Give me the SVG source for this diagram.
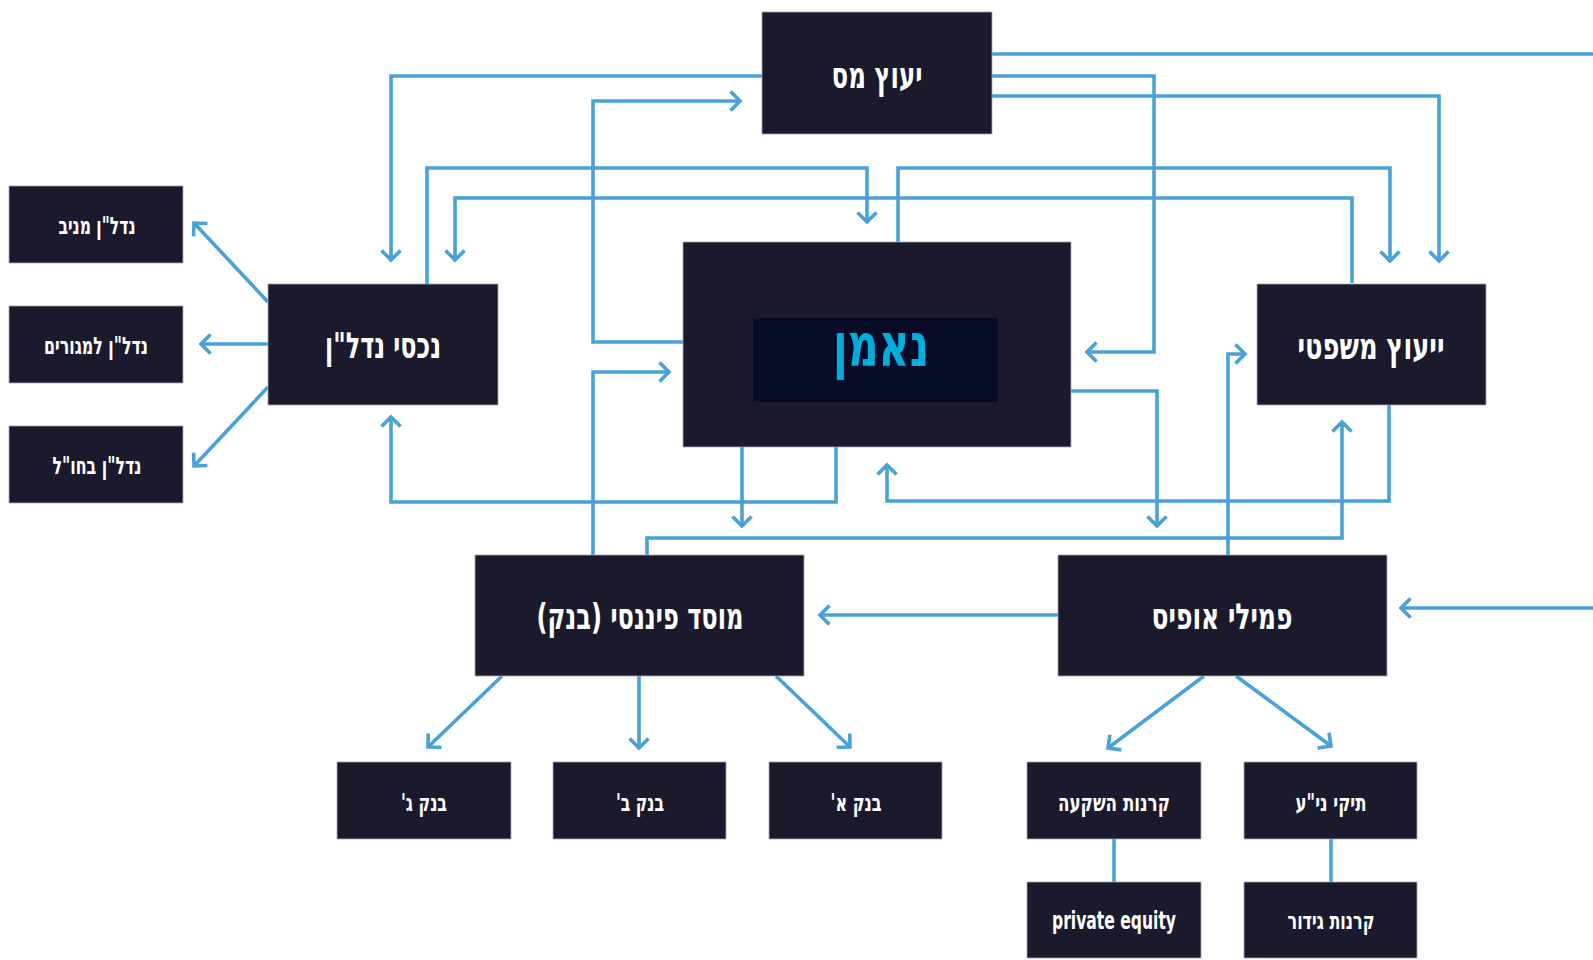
<svg xmlns="http://www.w3.org/2000/svg" width="1593" height="960" viewBox="0 0 1593 960">
<style>
.box{fill:#1b1a2d;stroke:#a8a8b2;stroke-width:0.8}
.t{fill:#ffffff;font-family:"DejaVu Sans Condensed","DejaVu Sans",sans-serif;font-stretch:condensed;font-weight:bold;text-anchor:middle}
.big{font-size:36px}
.sm{font-size:24px}
.c{fill:none;stroke:#48a2d5;stroke-width:3.6;stroke-linejoin:miter}
.a{marker-end:url(#ah)}
</style>
<defs>
<marker id="ah" viewBox="-14 -14 28 28" markerWidth="28" markerHeight="28" refX="0" refY="0" orient="auto" markerUnits="userSpaceOnUse">
<path d="M-9.5,-9.5 L0,0 L-9.5,9.5" fill="none" stroke="#48a2d5" stroke-width="3.6"/>
</marker>
</defs>
<rect width="1593" height="960" fill="#ffffff"/>
<g id="connectors">
<polyline class="c a" points="762,76 391,76 391,260"/>
<polyline class="c a" points="683,342 593,342 593,101 740,101"/>
<polyline class="c a" points="427,284 427,168 867,168 867,222"/>
<polyline class="c a" points="1352,283 1352,198 455,198 455,260"/>
<polyline class="c a" points="898,242 898,168 1390,168 1390,261"/>
<polyline class="c a" points="992,96 1439,96 1439,261"/>
<polyline class="c a" points="992,76 1154,76 1154,352 1087,352"/>
<polyline class="c" points="992,54 1593,54"/>
<polyline class="c a" points="1593,608 1401,608"/>
<polyline class="c a" points="1071,391 1157,391 1157,526"/>
<polyline class="c a" points="1228,555 1228,354 1245,354"/>
<polyline class="c a" points="647,555 647,538 1342,538 1342,422"/>
<polyline class="c a" points="1389,405 1389,501 887,501 887,465"/>
<polyline class="c a" points="836,447 836,502 391,502 391,417"/>
<polyline class="c a" points="742,447 742,526"/>
<polyline class="c a" points="593,555 593,372 669,372"/>
<polyline class="c a" points="1058,615 820,615"/>
<line class="c a" x1="268" y1="302" x2="194" y2="223"/>
<line class="c a" x1="268" y1="344" x2="201" y2="344"/>
<line class="c a" x1="268" y1="387" x2="194" y2="466"/>
<line class="c a" x1="502" y1="676" x2="428" y2="747"/>
<line class="c a" x1="639" y1="676" x2="639" y2="748"/>
<line class="c a" x1="776" y1="676" x2="850" y2="747"/>
<line class="c a" x1="1204" y1="676" x2="1108" y2="748"/>
<line class="c a" x1="1236" y1="676" x2="1331" y2="746"/>
<line class="c" x1="1114" y1="839" x2="1114" y2="882"/>
<line class="c" x1="1331" y1="839" x2="1331" y2="882"/>
</g>
<g id="tax">
<rect class="box" x="762" y="12" width="230" height="122"/>
<text class="t big" x="877" y="88" direction="rtl" textLength="91" lengthAdjust="spacingAndGlyphs">יעוץ מס</text>
</g>
<g id="central">
<rect class="box" x="683" y="242" width="388" height="205"/>
<rect x="753" y="318" width="245" height="84" fill="#080c29"/>
<text x="881" y="366" direction="rtl" textLength="96" lengthAdjust="spacingAndGlyphs" style="fill:#00aedb;font-family:'DejaVu Sans Condensed','DejaVu Sans',sans-serif;font-stretch:condensed;font-weight:bold;font-size:60px;text-anchor:middle">נאמן</text>
</g>
<g id="realestate">
<rect class="box" x="268" y="284" width="230" height="121"/>
<text class="t big" x="383" y="358" direction="rtl" textLength="116" lengthAdjust="spacingAndGlyphs">נכסי נדל"ן</text>
</g>
<g id="legal">
<rect class="box" x="1257" y="284" width="229" height="121"/>
<text class="t big" x="1371" y="359" direction="rtl" textLength="147" lengthAdjust="spacingAndGlyphs">ייעוץ משפטי</text>
</g>
<g id="re-income">
<rect class="box" x="9" y="186" width="174" height="77"/>
<text class="t sm" x="97" y="234" direction="rtl" textLength="77" lengthAdjust="spacingAndGlyphs">נדל"ן מניב</text>
</g>
<g id="re-residential">
<rect class="box" x="9" y="306" width="174" height="77"/>
<text class="t sm" x="96" y="354" direction="rtl" textLength="104" lengthAdjust="spacingAndGlyphs">נדל"ן למגורים</text>
</g>
<g id="re-abroad">
<rect class="box" x="9" y="426" width="174" height="77"/>
<text class="t sm" x="97" y="474" direction="rtl" textLength="89" lengthAdjust="spacingAndGlyphs">נדל"ן בחו"ל</text>
</g>
<g id="bank">
<rect class="box" x="475" y="555" width="329" height="121"/>
<text class="t big" x="640" y="629" direction="rtl" textLength="207" lengthAdjust="spacingAndGlyphs">מוסד פיננסי (בנק)</text>
</g>
<g id="familyoffice">
<rect class="box" x="1058" y="555" width="329" height="121"/>
<text class="t big" x="1222" y="629" direction="rtl" textLength="141" lengthAdjust="spacingAndGlyphs">פמילי אופיס</text>
</g>
<g id="bank-c">
<rect class="box" x="337" y="762" width="174" height="77"/>
<text class="t sm" x="424" y="811" direction="rtl" textLength="46" lengthAdjust="spacingAndGlyphs">בנק ג'</text>
</g>
<g id="bank-b">
<rect class="box" x="553" y="762" width="173" height="77"/>
<text class="t sm" x="640" y="811" direction="rtl" textLength="48" lengthAdjust="spacingAndGlyphs">בנק ב'</text>
</g>
<g id="bank-a">
<rect class="box" x="769" y="762" width="173" height="77"/>
<text class="t sm" x="856" y="811" direction="rtl" textLength="51" lengthAdjust="spacingAndGlyphs">בנק א'</text>
</g>
<g id="investment-funds">
<rect class="box" x="1027" y="762" width="174" height="77"/>
<text class="t sm" x="1114" y="811" direction="rtl" textLength="112" lengthAdjust="spacingAndGlyphs">קרנות השקעה</text>
</g>
<g id="securities">
<rect class="box" x="1244" y="762" width="173" height="77"/>
<text class="t sm" x="1331" y="811" direction="rtl" textLength="71" lengthAdjust="spacingAndGlyphs">תיקי ני"ע</text>
</g>
<g id="private-equity">
<rect class="box" x="1027" y="882" width="174" height="76"/>
<text class="t sm" x="1114" y="929" textLength="124" lengthAdjust="spacingAndGlyphs">private equity</text>
</g>
<g id="hedge-funds">
<rect class="box" x="1244" y="882" width="173" height="76"/>
<text class="t sm" x="1331" y="929" direction="rtl" textLength="87" lengthAdjust="spacingAndGlyphs">קרנות גידור</text>
</g>
</svg>
